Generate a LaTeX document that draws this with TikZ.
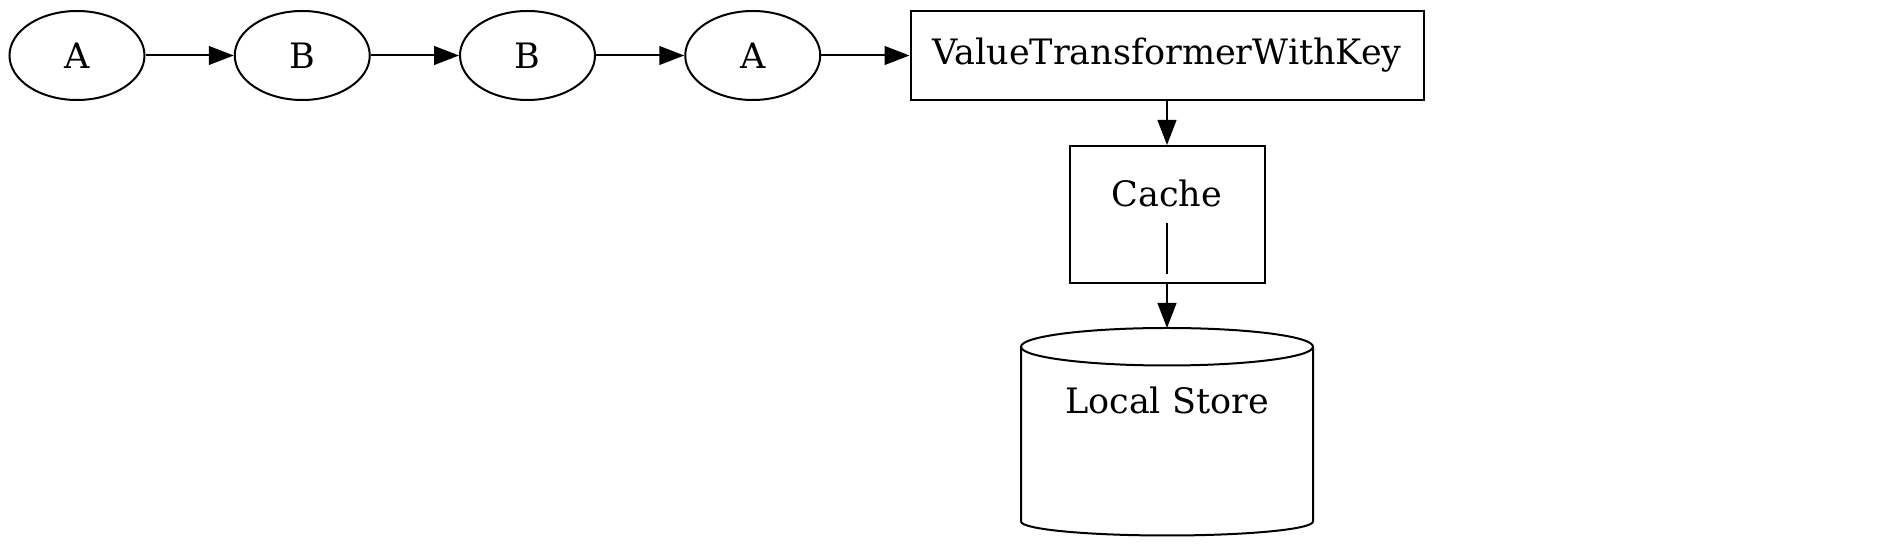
\documentclass[tikz,border=0pt]{standalone}
\usepackage{fontspec}
\setmainfont{DejaVu Serif}
\usetikzlibrary{
    arrows.meta,
    positioning,
    shapes.geometric
}

\begin{document}
\begin{tikzpicture}[
        node distance=35.3pt,
        font=\fontsize{14pt}{17pt}\selectfont,
        stream/.style={
            ellipse,
            draw,
            line width=0.8pt,
            inner sep=0pt,
            minimum width=54pt,
            minimum height=35.6pt
        },
        proc/.style={
            rectangle,
            draw,
            line width=0.8pt,
            minimum height=35.6pt
        },
        line/.style={
            -{Triangle[length=10pt,width=7.5pt]},
            line width=0.8pt
        }
    ]

    \useasboundingbox (0,0) rectangle (753.2pt,-218.8pt);

    \node[stream] (a1) at (30.8pt,-22.2pt) {A};
    \node[stream, right=of a1] (b1) {B};
    \node[stream, right=of b1] (b2) {B};
    \node[stream, right=of b2] (a2) {A};

    \node[proc, right=of a2, minimum width=205.2pt] (transformer)
        {ValueTransformerWithKey};

    \node[proc, below=17.6pt of transformer,
          minimum width=78pt, minimum height=54.8pt,
          label={[yshift=8.6pt]center:Cache}] (cache) {};

    \node[below=17.6pt of cache, inner sep=0pt, outer sep=0pt,
          minimum width=116.8pt, minimum height=83pt,
          label={[yshift=12.4pt]center:Local Store}] (store) {};

    % cylinder outline round the store
    \draw[line width=0.8pt]
        ([yshift=-7.5pt]store.north west)
        -- ([yshift=5.6pt]store.south west)
        arc[start angle=180, end angle=360,
            x radius=58.4pt, y radius=5.6pt]
        -- ([yshift=-7.5pt]store.north east);
    \draw[line width=0.8pt]
        ([yshift=-7.5pt]store.north)
        ellipse[x radius=58.4pt, y radius=7.5pt];

    % bar inside the cache box
    \draw[line width=0.8pt]
        ([yshift=-3.4pt]cache.center)
        --
        ([yshift=-23.8pt]cache.center);

    \draw[line] (a1) -- (b1);
    \draw[line] (b1) -- (b2);
    \draw[line] (b2) -- (a2);
    \draw[line] (a2) -- (transformer);
    \draw[line] (transformer) -- (cache);
    \draw[line] (cache) -- (store);

\end{tikzpicture}
\end{document}
